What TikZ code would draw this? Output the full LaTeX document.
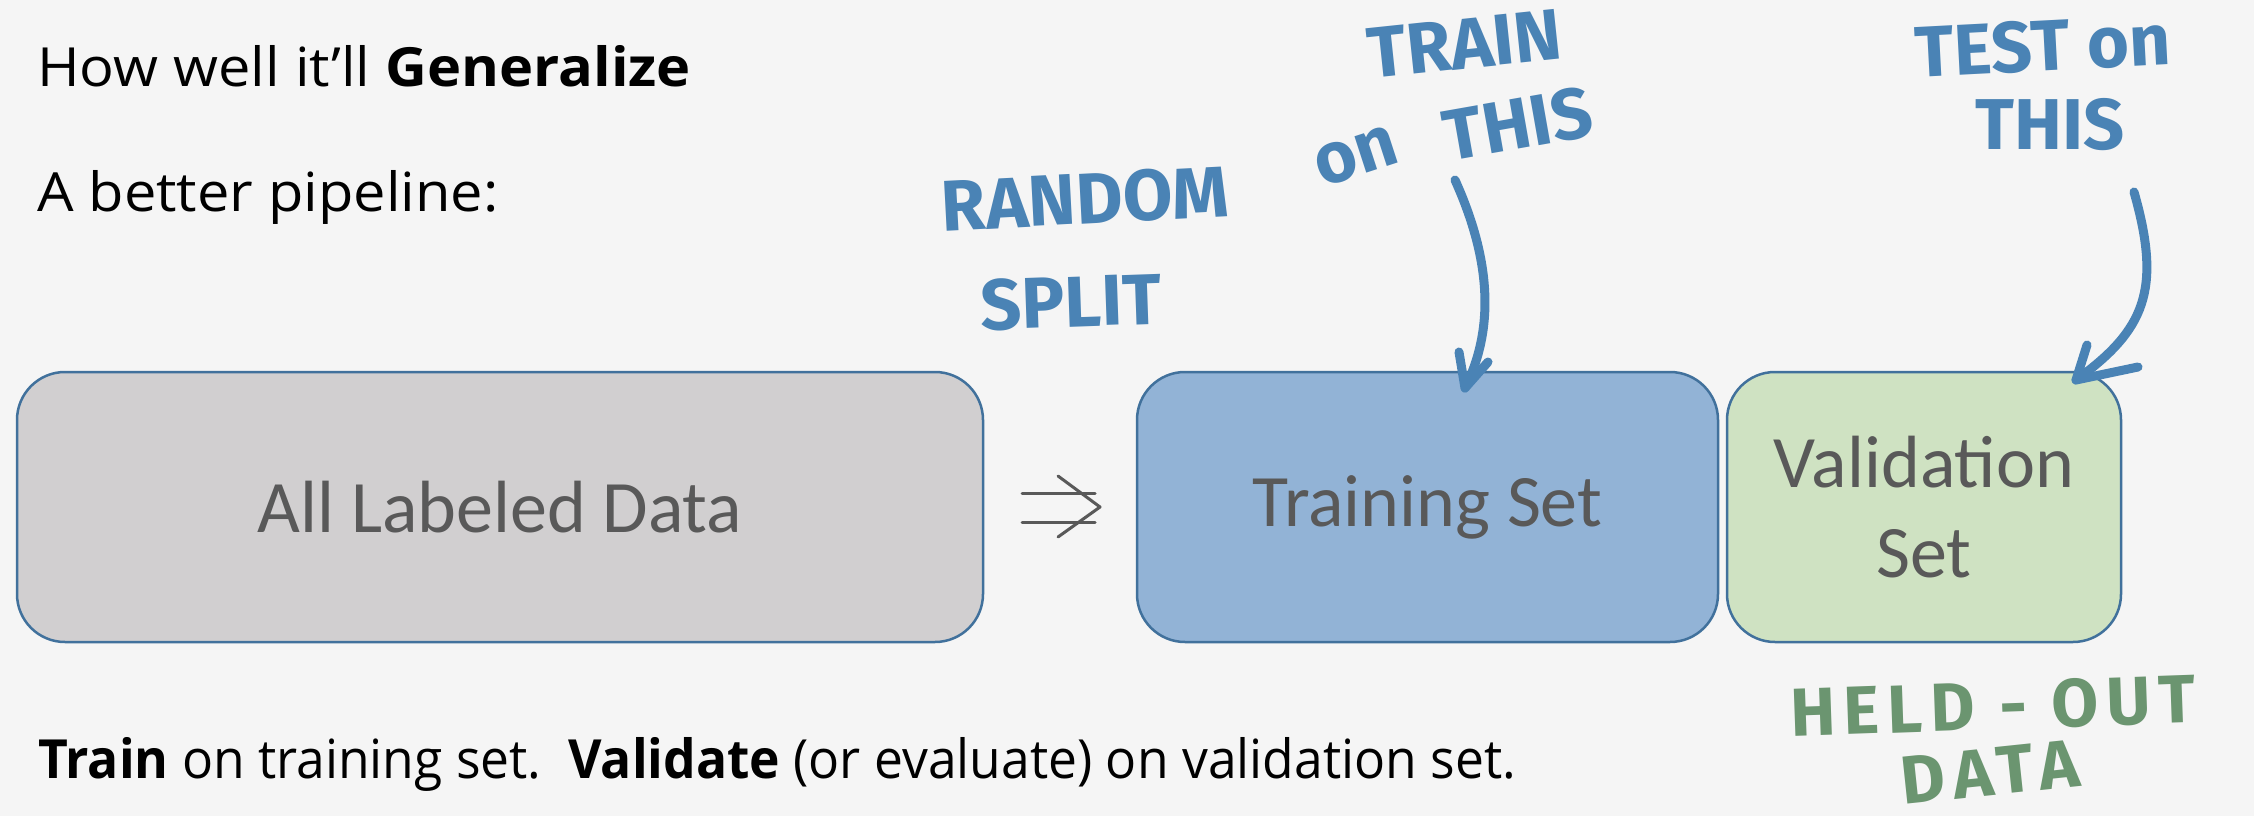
\documentclass[tikz,border=0pt]{standalone}
\usepackage{fontspec}
\setmainfont{Open Sans}
\newfontfamily\boxfont{Carlito}
\newfontfamily\handfont{Fira Sans}
\definecolor{bg}{HTML}{F5F5F5}
\definecolor{edge}{HTML}{41719C}
\definecolor{allfill}{HTML}{D1CFD0}
\definecolor{trainfill}{HTML}{92B3D6}
\definecolor{valfill}{HTML}{CFE2C2}
\definecolor{boxtext}{HTML}{595959}
\definecolor{ink}{HTML}{4A83B5}
\definecolor{greenink}{HTML}{6B9570}
\tikzset{
  box/.style={draw=edge, line width=2.5pt, rounded corners=48pt, text=boxtext,
    font=\boxfont\fontsize{74}{90}\selectfont, align=center, inner sep=0pt},
  body/.style={anchor=base west, inner sep=0pt, font=\fontsize{54}{62}\selectfont},
  hand/.style={text=ink, inner sep=0pt, font=\handfont\bfseries\fontsize{72}{72}\selectfont},
  greenhand/.style={hand, text=greenink, font=\handfont\bfseries\fontsize{68}{68}\selectfont\addfontfeature{LetterSpace=12}},
  handline/.style={draw=ink, line width=9pt, line cap=round, line join=round},
  imply/.style={draw=boxtext, line width=3pt, line cap=round, line join=round}
}
\begin{document}
\begin{tikzpicture}[x=1pt,y=-1pt]
\fill[bg] (0,0) rectangle (2254,816);
\useasboundingbox (0,0) rectangle (2254,816);

% headings
\node[body, xscale=1.07] (title) at (37,86) {How well it’ll \textbf{Generalize}};
\node[body, xscale=1.07] (sub) at (37,211) {A better pipeline:};
\node[body, xscale=0.955] (foot) at (38,778) {\textbf{Train} on training set.\ \ \textbf{Validate} (or evaluate) on validation set.};

% the three data blocks
\node[box, fill=allfill, minimum width=966pt, minimum height=270pt] (all) at (500,507) {All Labeled Data};
\node[box, fill=trainfill, minimum width=581pt, minimum height=270pt] (train) at (1427.5,507) {Training Set};
\node[box, fill=valfill, minimum width=394pt, minimum height=270pt] (val) at (1924,507) {Validation\\Set};

% implication arrow between the blocks
\coordinate (i1) at (1022,493);
\coordinate (i2) at (1095,493);
\coordinate (i3) at (1022,522);
\coordinate (i4) at (1095,522);
\coordinate (h1) at (1058,476);
\coordinate (h2) at (1100,507);
\coordinate (h3) at (1058,537);
\draw[imply] (i1) -- (i2);
\draw[imply] (i3) -- (i4);
\draw[imply] (h1) -- (h2) -- (h3);

% handwritten notes
\node[hand, rotate=3] (random) at (1085,199) {RANDOM};
\node[hand, rotate=2] (split) at (1071,302) {SPLIT};
\node[hand, rotate=6] (trainlbl) at (1465,44) {TRAIN};
\node[hand, rotate=18] (onlbl) at (1356,156) {on};
\node[hand, rotate=10] (thisA) at (1518,124) {THIS};
\node[hand, rotate=3] (testlbl) at (2043,46) {TEST on};
\node[hand] (thislbl) at (2050,125) {THIS};
\node[greenhand, rotate=2] (held) at (1993,706) {HELD - OUT};
\node[greenhand, rotate=6] (data) at (1990,772) {DATA};

% hand-drawn arrows onto the blocks
\coordinate (a1s) at (1455,180);
\coordinate (a1e) at (1465,388);
\coordinate (a1l) at (1459,352);
\coordinate (a1r) at (1488,362);
\draw[handline] (a1s) .. controls (1492,262) and (1494,330) .. (a1e);
\draw[handline] (a1l) -- (a1e) -- (a1r);

\coordinate (a2s) at (2134,192);
\coordinate (a2e) at (2076,380);
\coordinate (a2l) at (2087,345);
\coordinate (a2r) at (2138,367);
\draw[handline] (a2s) .. controls (2162,290) and (2145,330) .. (a2e);
\draw[handline] (a2l) -- (a2e) -- (a2r);
\end{tikzpicture}
\end{document}
